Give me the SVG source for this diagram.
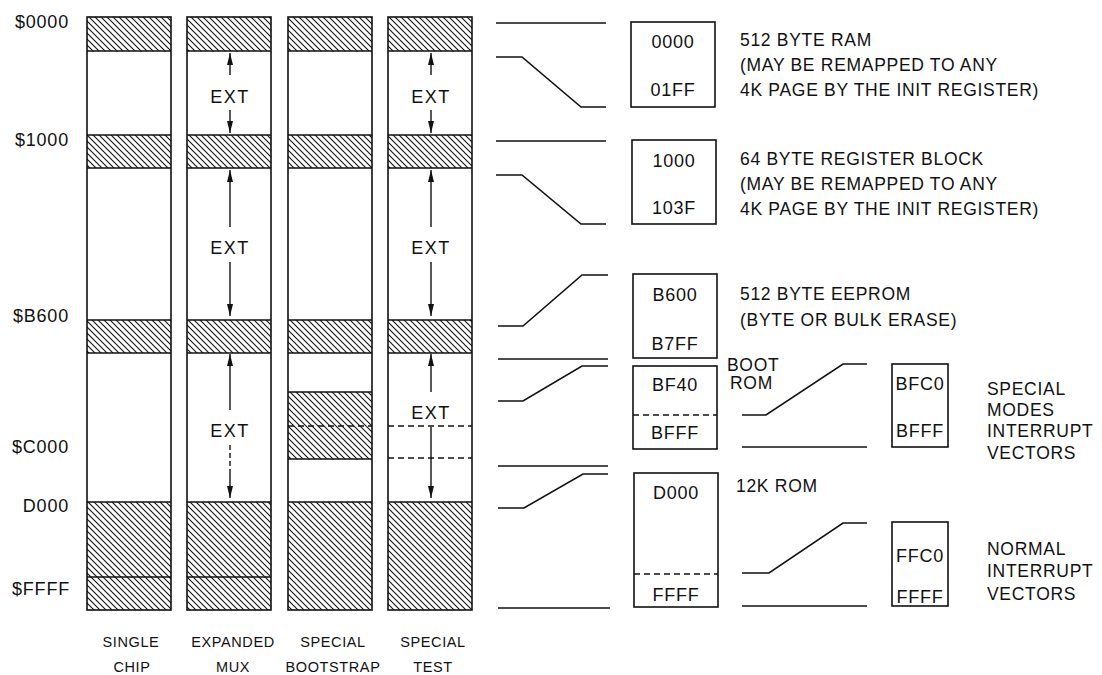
<svg xmlns="http://www.w3.org/2000/svg" width="1102" height="675" viewBox="0 0 1102 675">
<style>
text{font-family:"Liberation Sans",Arial,sans-serif;fill:#111}
.lbl{font-size:18px;letter-spacing:0.8px}
.desc{font-size:17.5px;letter-spacing:0.7px}
.box{font-size:18px;letter-spacing:0.8px;text-anchor:middle}
.ext{font-size:18px;letter-spacing:1.5px;text-anchor:middle}
.mode{font-size:14.5px;letter-spacing:0.6px;text-anchor:middle}
.col{fill:none;stroke:#111;stroke-width:1.6}
.sep{stroke:#111;stroke-width:1.5}
.dash{stroke:#111;stroke-width:1.5;stroke-dasharray:6,4}
.hatch{fill:url(#h)}
.ln{fill:none;stroke:#111;stroke-width:1.6}
.arr{stroke:#111;stroke-width:1.4;marker-end:url(#ah)}
</style>
<defs>
<pattern id="h" patternUnits="userSpaceOnUse" width="6" height="6">
<rect width="6" height="6" fill="#fff"/>
<path d="M-1,-1 L7,7 M-1,5 L1,7 M5,-1 L7,1" stroke="#111" stroke-width="1.1"/>
</pattern>
<marker id="ah" markerUnits="userSpaceOnUse" markerWidth="13" markerHeight="7" refX="12" refY="3" orient="auto">
<path d="M0,0 L12,3 L0,6 Z" fill="#111"/>
</marker>
</defs>
<rect width="1102" height="675" fill="#fff"/>

<g id="address-labels" class="lbl" text-anchor="end">
<text x="69" y="28">$0000</text>
<text x="69" y="146">$1000</text>
<text x="69" y="322">$B600</text>
<text x="69" y="453">$C000</text>
<text x="69" y="512">D000</text>
<text x="70" y="595">$FFFF</text>
</g>

<g id="col-single-chip">
<rect class="hatch" x="87" y="17" width="84" height="34"/>
<rect class="hatch" x="87" y="135" width="84" height="33"/>
<rect class="hatch" x="87" y="320" width="84" height="33"/>
<rect class="hatch" x="87" y="502" width="84" height="108"/>
<rect class="col" x="87" y="17" width="84" height="593"/>
<path class="sep" d="M87,51H171M87,135H171M87,168H171M87,320H171M87,353H171M87,502H171M87,577H171"/>
<text class="mode" x="131" y="647">SINGLE</text>
<text class="mode" x="132" y="672">CHIP</text>
</g>

<g id="col-expanded-mux">
<rect class="hatch" x="187" y="17" width="84" height="34"/>
<rect class="hatch" x="187" y="135" width="84" height="33"/>
<rect class="hatch" x="187" y="320" width="84" height="33"/>
<rect class="hatch" x="187" y="502" width="84" height="108"/>
<rect class="col" x="187" y="17" width="84" height="593"/>
<path class="sep" d="M187,51H271M187,135H271M187,168H271M187,320H271M187,353H271M187,502H271M187,577H271"/>
<text class="ext" x="230" y="103">EXT</text>
<text class="ext" x="230" y="254">EXT</text>
<text class="ext" x="230" y="437">EXT</text>
<text class="mode" x="233" y="647">EXPANDED</text>
<text class="mode" x="233" y="672">MUX</text>
</g>

<g id="col-special-bootstrap">
<rect class="hatch" x="288" y="17" width="84" height="34"/>
<rect class="hatch" x="288" y="135" width="84" height="33"/>
<rect class="hatch" x="288" y="320" width="84" height="33"/>
<rect class="hatch" x="288" y="392" width="84" height="67"/>
<rect class="hatch" x="288" y="502" width="84" height="108"/>
<rect class="col" x="288" y="17" width="84" height="593"/>
<path class="sep" d="M288,51H372M288,135H372M288,168H372M288,320H372M288,353H372M288,392H372M288,459H372M288,502H372"/>
<path class="dash" d="M288,426H372"/>
<text class="mode" x="333" y="647">SPECIAL</text>
<text class="mode" x="333" y="672">BOOTSTRAP</text>
</g>

<g id="col-special-test">
<rect class="hatch" x="388" y="17" width="84" height="34"/>
<rect class="hatch" x="388" y="135" width="84" height="33"/>
<rect class="hatch" x="388" y="320" width="84" height="33"/>
<rect class="hatch" x="388" y="502" width="84" height="108"/>
<rect class="col" x="388" y="17" width="84" height="593"/>
<path class="sep" d="M388,51H472M388,135H472M388,168H472M388,320H472M388,353H472M388,502H472"/>
<path class="dash" d="M388,426H472M388,458H472"/>
<text class="ext" x="431" y="103">EXT</text>
<text class="ext" x="431" y="254">EXT</text>
<text class="ext" x="431" y="419">EXT</text>
<text class="mode" x="433" y="647">SPECIAL</text>
<text class="mode" x="433" y="672">TEST</text>
</g>

<g id="box-ram">
<rect class="col" x="631" y="22" width="84" height="85"/>
<text class="box" x="673" y="48">0000</text>
<text class="box" x="673" y="96">01FF</text>
<text class="desc" x="740" y="46">512 BYTE RAM</text>
<text class="desc" x="740" y="71">(MAY BE REMAPPED TO ANY</text>
<text class="desc" x="740" y="96">4K PAGE BY THE INIT REGISTER)</text>
</g>

<g id="box-register">
<rect class="col" x="632" y="140" width="84" height="84"/>
<text class="box" x="674" y="167">1000</text>
<text class="box" x="674" y="214">103F</text>
<text class="desc" x="740" y="165">64 BYTE REGISTER BLOCK</text>
<text class="desc" x="740" y="190">(MAY BE REMAPPED TO ANY</text>
<text class="desc" x="740" y="215">4K PAGE BY THE INIT REGISTER)</text>
</g>

<g id="box-eeprom">
<rect class="col" x="633" y="274" width="84" height="84"/>
<text class="box" x="675" y="301">B600</text>
<text class="box" x="675" y="350">B7FF</text>
<text class="desc" x="740" y="300">512 BYTE EEPROM</text>
<text class="desc" x="740" y="326">(BYTE OR BULK ERASE)</text>
</g>

<g id="box-boot-rom">
<rect class="col" x="633" y="366" width="84" height="83"/>
<path class="dash" d="M633,415H717"/>
<text class="box" x="675" y="391">BF40</text>
<text class="box" x="675" y="439">BFFF</text>
<text class="desc" x="727" y="371">BOOT</text>
<text class="desc" x="730" y="389">ROM</text>
</g>

<g id="box-rom">
<rect class="col" x="634" y="473" width="84" height="134"/>
<path class="dash" d="M634,574H718"/>
<text class="box" x="676" y="499">D000</text>
<text class="box" x="676" y="601">FFFF</text>
<text class="desc" x="736" y="492">12K ROM</text>
</g>

<g id="box-special-vectors">
<rect class="col" x="892" y="364" width="56" height="83"/>
<text class="box" x="920" y="390">BFC0</text>
<text class="box" x="920" y="437">BFFF</text>
<text class="desc" x="987" y="395">SPECIAL</text>
<text class="desc" x="987" y="416">MODES</text>
<text class="desc" x="987" y="437">INTERRUPT</text>
<text class="desc" x="987" y="459">VECTORS</text>
</g>

<g id="box-normal-vectors">
<rect class="col" x="892" y="522" width="56" height="84"/>
<text class="box" x="920" y="562">FFC0</text>
<text class="box" x="920" y="603">FFFF</text>
<text class="desc" x="987" y="555">NORMAL</text>
<text class="desc" x="987" y="577">INTERRUPT</text>
<text class="desc" x="987" y="600">VECTORS</text>
</g>

<g id="connectors">
<path class="ln" d="M496,23H606"/>
<path class="ln" d="M496,57H522L581,107H606"/>
<path class="ln" d="M496,141H606"/>
<path class="ln" d="M496,175H522L581,224H606"/>
<path class="ln" d="M498,326H523L582,275H608"/>
<path class="ln" d="M498,359H608"/>
<path class="ln" d="M498,401H523L582,366H608"/>
<path class="ln" d="M498,466H608"/>
<path class="ln" d="M498,508H524L583,474H608"/>
<path class="ln" d="M498,608H610"/>
<path class="ln" d="M742,415H766L843,364H867"/>
<path class="ln" d="M742,447H867"/>
<path class="ln" d="M742,573H769L843,523H867"/>
<path class="ln" d="M742,606H867"/>
<line class="arr" x1="230" y1="75" x2="230" y2="53"/>
<line class="arr" x1="230" y1="110" x2="230" y2="133"/>
<line class="arr" x1="230" y1="227" x2="230" y2="170"/>
<line class="arr" x1="230" y1="262" x2="230" y2="316"/>
<line class="arr" x1="230" y1="410" x2="230" y2="354"/>
<line x1="230" y1="445" x2="230" y2="470" stroke="#111" stroke-width="1.4" stroke-dasharray="5,3"/>
<line class="arr" x1="230" y1="470" x2="230" y2="498"/>
<line class="arr" x1="431" y1="75" x2="431" y2="53"/>
<line class="arr" x1="431" y1="110" x2="431" y2="133"/>
<line class="arr" x1="431" y1="227" x2="431" y2="170"/>
<line class="arr" x1="431" y1="262" x2="431" y2="316"/>
<line class="arr" x1="431" y1="392" x2="431" y2="354"/>
<line class="arr" x1="431" y1="427" x2="431" y2="498"/>
</g>
</svg>
